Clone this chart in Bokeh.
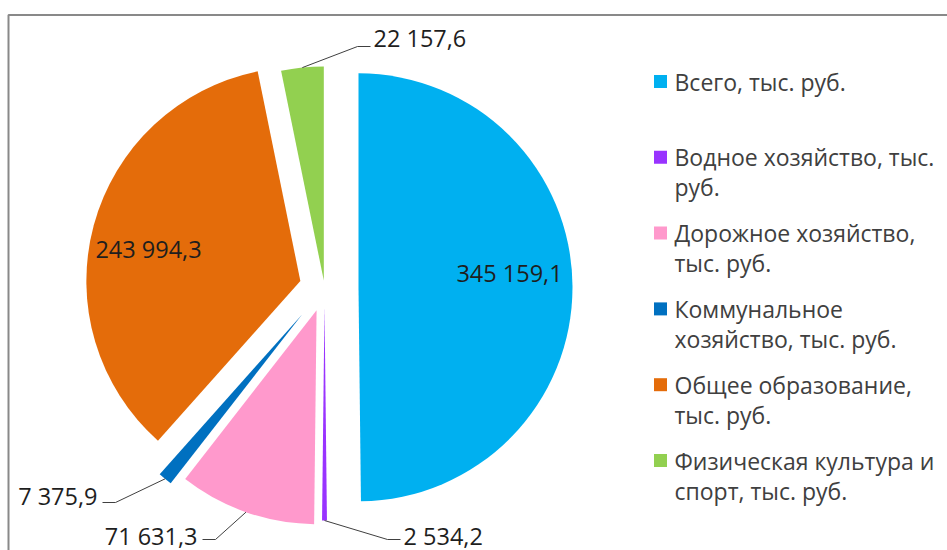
import textwrap
import numpy as np
from bokeh.plotting import figure
from bokeh.models import ColumnDataSource, Range1d
from bokeh.core.properties import value
from bokeh.embed import file_html
from bokeh.resources import INLINE

# ---------------- data ----------------
categories = [
    "Всего, тыс. руб.",
    "Водное хозяйство, тыс. руб.",
    "Дорожное хозяйство, тыс. руб.",
    "Коммунальное хозяйство, тыс. руб.",
    "Общее образование, тыс. руб.",
    "Физическая культура и спорт, тыс. руб.",
]
values = [345159.1, 2534.2, 71631.3, 7375.9, 243994.3, 22157.6]

# ---------------- style / layout ----------------
colors = ["#00B0F0", "#9933FF", "#FF99CC", "#0070C0", "#E46C0A", "#92D050"]
explode = [34, 19, 24, 35, 25, 7]          # px, per slice
W, H = 947, 550
CX, CY = 324, 287                          # pie centre (px from top-left)
R = 214                                    # radius (px)
FONT = "Open Sans"
FS_LABEL = "23.5px"
FS_LEGEND = "23px"

def py(y):  # pixel y (from top) -> data y
    return H - y

# label anchors (px): (x, y, align, leader_y)
label_layout = [
    (509, 272, "center", None),
    (403, 535, "left", 539),
    (197, 535, "right", 539),
    (97, 495, "right", 502),
    (148, 248, "center", None),
    (373, 37, "left", 46),
]

def fmt(v):
    return f"{v:,.1f}".replace(",", " ").replace(".", ",")

vals = np.array(values)
frac = vals / vals.sum()
th_end = np.cumsum(frac) * 360.0
th_start = th_end - frac * 360.0
th_mid = (th_start + th_end) / 2.0
rad_mid = np.radians(th_mid)
ex = np.array(explode, dtype=float)
apex_x = CX + ex * np.sin(rad_mid)
apex_y = py(CY) + ex * np.cos(rad_mid)

src = ColumnDataSource(dict(
    x=apex_x, y=apex_y,
    start=np.radians(90.0 - th_end), end=np.radians(90.0 - th_start),
    color=colors, cat=categories,
))

p = figure(width=W, height=H, output_backend="svg", toolbar_location=None,
           x_range=Range1d(0, W), y_range=Range1d(0, H),
           min_border=0, outline_line_color=None, background_fill_color="white",
           border_fill_color="white")
p.xaxis.visible = False
p.yaxis.visible = False
p.grid.visible = False

# chart-area border (only top and left visible in the crop)
p.quad(left=[8], right=[3000], top=[py(14.5)], bottom=[-1000],
       fill_color=None, line_color="#898989", line_width=2)

p.wedge(x="x", y="y", radius=R, radius_units="screen",
        start_angle="start", end_angle="end", fill_color="color",
        line_color=None, source=src)

# data labels + leader lines
texts = [fmt(v) for v in values]
for i, (lx, ly, al, ly_lead) in enumerate(label_layout):
    if ly_lead is not None:
        sx = apex_x[i] + R * np.sin(rad_mid[i])
        sy = apex_y[i] + R * np.cos(rad_mid[i])
        if al == "left":
            ex_x, end_x = lx - 16, lx - 3
        else:
            ex_x, end_x = lx + 18, lx + 5
        p.line([sx, ex_x, end_x], [sy, py(ly_lead), py(ly_lead)],
               line_color="#404040", line_width=1)
    p.text(x=[lx], y=[py(ly)], text=[texts[i]], text_font=value(FONT),
           text_font_size=FS_LABEL, text_align=al, text_baseline="middle",
           text_color="#1e1e1e")

# legend (manual, wrapped like the original)
leg_x_sq, leg_x_txt = 660, 674
leg_top, leg_step, line_h = 81, 75.8, 30
sq_x, sq_y, sq_c = [], [], []
tx, ty, tt = [], [], []
for i, cat in enumerate(categories):
    yc = leg_top + i * leg_step
    sq_x.append(leg_x_sq); sq_y.append(py(yc)); sq_c.append(colors[i])
    for j, line in enumerate(textwrap.wrap(cat, 22)):
        tx.append(leg_x_txt); ty.append(py(yc + j * line_h)); tt.append(line)
p.scatter(x=sq_x, y=sq_y, marker="square", size=13, fill_color=sq_c,
          line_color=None)
p.text(x=tx, y=ty, text=tt, text_font=value(FONT), text_font_size=FS_LEGEND,
       text_align="left", text_baseline="middle", text_color="#404040")

open("out.html", "w").write(file_html(p, INLINE))
